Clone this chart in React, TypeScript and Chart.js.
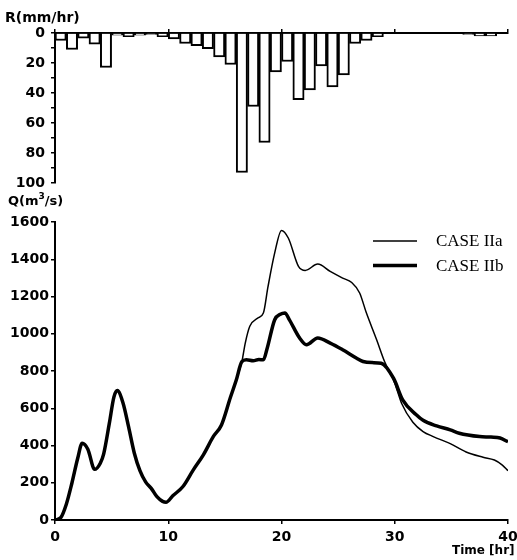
import React, { useEffect, useRef } from 'react';
import { Chart, registerables } from 'chart.js';

Chart.register(...registerables);

// Rainfall hyetograph (hourly, mm/hr)
const rainHours = [
  0, 1, 2, 3, 4, 5, 6, 7, 8, 9, 10, 11, 12, 13, 14, 15, 16, 17, 18, 19,
  20, 21, 22, 23, 24, 25, 26, 27, 28, 29, 30, 31, 32, 33, 34, 35, 36, 37, 38, 39,
];
const rainfall = [
  5, 11, 3.5, 7.5, 23, 1.5, 2.5, 1.5, 1, 2.5, 4, 7, 8.5, 10.5, 16, 21, 93, 49, 73, 26,
  19, 44.5, 38, 22, 36, 28, 7, 5, 2.5, 0, 0, 0, 0, 0, 0, 0, 1, 2, 2, 0,
];

// Common rising limb of both hydrographs
const sharedTime = [
  0, 0.5, 1, 1.5, 2, 2.4, 2.9, 3.5, 4, 4.3, 4.8, 5.2, 5.5, 6, 6.5, 7, 7.5, 8, 8.5, 9,
  9.5, 9.8, 10.4, 11.3, 12.2, 13.1, 14, 14.7, 15.5, 16, 16.5,
];
const sharedFlow = [
  0, 12, 85, 200, 330, 412, 380, 272, 305, 355, 520, 660, 695, 630, 500, 360, 265, 205, 170, 125,
  100, 95, 130, 180, 268, 350, 450, 510, 660, 750, 850,
];

// CASE IIa
const caseATime = [
  16.8, 17.2, 17.9, 18.4, 18.8, 19.4, 20, 20.6, 21.5, 22.1, 23.2, 24.3, 25.4, 26.2, 26.9, 27.5,
  28.4, 29.1, 30, 30.6, 31.6, 32.5, 33.4, 34.9, 36.3, 37.8, 38.8, 39.5, 40,
];
const caseAFlow = [
  950, 1040, 1084, 1111, 1250, 1434, 1555, 1514, 1362, 1340, 1374, 1335, 1299, 1275, 1219, 1111,
  968, 851, 735, 627, 525, 475, 448, 410, 365, 337, 322, 295, 265,
];

// CASE IIb
const caseBTime = [
  16.9, 17.5, 18, 18.4, 18.7, 19.4, 19.9, 20.3, 20.7, 21.6, 22.2, 23.2, 24.3, 25.4, 26.6, 27.2,
  28, 28.8, 29.9, 30.7, 31.9, 32.5, 33.7, 34.9, 35.7, 37.5, 38.5, 39.3, 40,
];
const caseBFlow = [
  860, 855, 862, 860, 914, 1075, 1105, 1112, 1075, 977, 941, 977, 950, 914, 870, 851,
  845, 842, 760, 645, 565, 535, 505, 484, 466, 448, 445, 440, 420,
];

const seriesLabels = ['CASE IIa', 'CASE IIb'];
const seriesWidths = [1.5, 3.5];

const tickFont = { family: '"DejaVu Sans", sans-serif', size: 14, weight: 'bold' as const, lineHeight: 1 };

const toPoints = (ts: number[], qs: number[]) => ts.map((t, i) => ({ x: t, y: qs[i] }));

const fixX = (h: number) => (s: any) => {
  s.height = h;
  s.paddingLeft = 0;
  s.paddingRight = 0;
};
const fixY = (w: number) => (s: any) => {
  s.width = w;
  s.paddingTop = 0;
  s.paddingBottom = 0;
};

const legendPlugin = {
  id: 'caseLegend',
  afterDraw(chart: any) {
    const ctx = chart.ctx;
    ctx.save();
    chart.data.datasets.forEach((ds: any, i: number) => {
      const y = 51 + i * 24.5;
      ctx.strokeStyle = '#000';
      ctx.lineWidth = ds.borderWidth;
      ctx.beginPath();
      ctx.moveTo(373, y);
      ctx.lineTo(417, y);
      ctx.stroke();
      ctx.fillStyle = '#000';
      ctx.font = '17px "Liberation Serif", serif';
      ctx.textBaseline = 'middle';
      ctx.fillText(ds.label, 436, y + 1);
    });
    ctx.restore();
  },
};

export default function App() {
  const rainRef = useRef<HTMLCanvasElement>(null);
  const flowRef = useRef<HTMLCanvasElement>(null);

  useEffect(() => {
    const rainChart = new Chart(rainRef.current!, {
      type: 'bar',
      data: {
        datasets: [
          {
            label: 'R',
            data: rainHours.map((h, i) => ({ x: h + 0.5, y: rainfall[i] })),
            backgroundColor: '#ffffff',
            borderColor: '#000000',
            borderWidth: 2,
            barPercentage: 1,
            categoryPercentage: 1,
          },
        ],
      },
      options: {
        responsive: false,
        animation: false,
        layout: { padding: { left: 0, right: 9, top: 0, bottom: 7 } },
        plugins: { legend: { display: false }, tooltip: { enabled: false } },
        scales: {
          x: {
            type: 'linear',
            position: 'top',
            min: 0,
            max: 40,
            offset: false,
            grid: { display: true, drawOnChartArea: false, drawTicks: true, tickLength: 4, color: '#000', lineWidth: 1.5, offset: false },
            border: { display: true, color: '#000', width: 2 },
            ticks: { stepSize: 10, autoSkip: false, callback: () => '' },
            afterFit: fixX(33),
          },
          y: {
            type: 'linear',
            reverse: true,
            min: 0,
            max: 100,
            grid: { display: true, drawOnChartArea: false, tickLength: 4, color: '#000', lineWidth: 1.5 },
            border: { display: true, color: '#000', width: 2 },
            ticks: {
              stepSize: 10,
              autoSkip: false,
              color: '#000',
              font: tickFont,
              padding: 6,
              callback: (v: any) => (Number(v) % 20 === 0 ? String(v) : ''),
            },
            afterFit: fixY(55),
          },
        },
      },
    } as any);

    const flowChart = new Chart(flowRef.current!, {
      type: 'line',
      data: {
        datasets: [
          {
            label: seriesLabels[0],
            data: [...toPoints(sharedTime, sharedFlow), ...toPoints(caseATime, caseAFlow)],
            borderColor: '#000',
            borderWidth: seriesWidths[0],
            pointRadius: 0,
            cubicInterpolationMode: 'monotone',
            fill: false,
          },
          {
            label: seriesLabels[1],
            data: [...toPoints(sharedTime, sharedFlow), ...toPoints(caseBTime, caseBFlow)],
            borderColor: '#000',
            borderWidth: seriesWidths[1],
            pointRadius: 0,
            cubicInterpolationMode: 'monotone',
            fill: false,
          },
        ],
      },
      options: {
        responsive: false,
        animation: false,
        layout: { padding: { left: 0, right: 9, top: 32, bottom: 0 } },
        plugins: { legend: { display: false }, tooltip: { enabled: false } },
        scales: {
          x: {
            type: 'linear',
            min: 0,
            max: 40,
            grid: { display: true, drawOnChartArea: false, tickLength: 4, color: '#000', lineWidth: 1.5 },
            border: { display: true, color: '#000', width: 2 },
            ticks: { stepSize: 10, autoSkip: false, color: '#000', font: tickFont, padding: 6, maxRotation: 0, callback: (v: any) => String(v) },
            afterFit: fixX(40),
          },
          y: {
            type: 'linear',
            min: 0,
            max: 1600,
            grid: { display: true, drawOnChartArea: false, tickLength: 4, color: '#000', lineWidth: 1.5 },
            border: { display: true, color: '#000', width: 2 },
            ticks: { stepSize: 200, autoSkip: false, color: '#000', font: tickFont, padding: 2, callback: (v: any) => String(v) },
            afterFit: fixY(55),
          },
        },
      },
      plugins: [legendPlugin],
    } as any);

    return () => {
      rainChart.destroy();
      flowChart.destroy();
    };
  }, []);

  const labelStyle: React.CSSProperties = {
    position: 'absolute',
    fontFamily: '"DejaVu Sans", sans-serif',
    fontWeight: 'bold',
    color: '#000',
    lineHeight: 1,
    whiteSpace: 'nowrap',
  };

  return (
    <div style={{ position: 'absolute', left: 0, top: 0, width: 517, height: 560, background: '#fff', overflow: 'hidden' }}>
      <canvas ref={rainRef} width={517} height={190} style={{ position: 'absolute', left: 0, top: 0, display: 'block' }} />
      <canvas ref={flowRef} width={517} height={370} style={{ position: 'absolute', left: 0, top: 190, display: 'block' }} />
      <div style={{ ...labelStyle, left: 5, top: 10, fontSize: 14 }}>R(mm/hr)</div>
      <div style={{ ...labelStyle, left: 8, top: 194, fontSize: 13 }}>
        Q(m<sup style={{ fontSize: 9, verticalAlign: 'top', position: 'relative', top: -2 }}>3</sup>/s)
      </div>
      <div style={{ ...labelStyle, left: 452, top: 544, fontSize: 12 }}>Time [hr]</div>
    </div>
  );
}
